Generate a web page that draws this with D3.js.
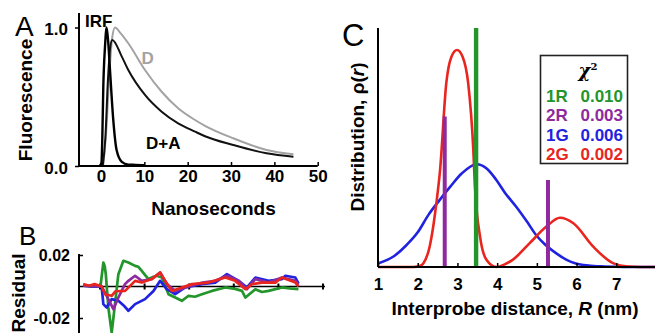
<!DOCTYPE html>
<html>
<head>
<meta charset="utf-8">
<script src="https://cdn.jsdelivr.net/npm/d3@7"></script>
<style>
  html, body { margin: 0; padding: 0; background: #fff; }
  svg { display: block; font-family: "Liberation Sans", Arial, sans-serif; }
</style>
</head>
<body>
<svg id="chart" width="655" height="333"></svg>
<script>
// ---- panel A: fluorescence decays (time in ns, normalised intensity)
const irfTime = [-0.3, 0.1, 0.3, 0.53, 0.92, 1.3, 1.7, 2.08, 2.84, 3.6, 4.8, 6.3, 8, 10];
const irfValue = [0, 0.02, 0.2, 0.57, 0.86, 1.0, 0.88, 0.69, 0.33, 0.115, 0.03, 0.01, 0.008, 0.005];

const donorTime = [0.5, 1.2, 2.0, 2.6, 3.23, 4.5, 6.3, 10.15, 14, 17.8, 21.7, 24, 30.5, 38.2, 44.4];
const donorValue = [0, 0.25, 0.7, 0.93, 1.0, 0.96, 0.886, 0.693, 0.536, 0.417, 0.332, 0.29, 0.2, 0.116, 0.084];

const donorAcceptorTime = [0.4, 1.0, 1.6, 2.1, 2.6, 4.8, 6.3, 10.15, 14, 17.8, 21.7, 24, 30.5, 38.2, 44.4];
const donorAcceptorValue = [0, 0.2, 0.62, 0.85, 0.91, 0.79, 0.693, 0.513, 0.392, 0.308, 0.248, 0.215, 0.152, 0.092, 0.067];

const timeTicks = [0, 10, 20, 30, 40, 50];

// ---- panel B: fit residuals, [ns, residual]
const residual1R = [[-3.75, 0.001], [-1.9, 0], [0.1, 0], [0.75, 0.0152], [1.05, 0.013], [1.3, 0.0078],
  [1.87, -0.0133], [2.62, -0.0292], [3.1, -0.0176], [4.12, 0.0078], [5.24, 0.0163], [6.37, 0.0152],
  [7.87, 0.0131], [8.6, 0.0125], [9.36, 0.0099], [10.86, 0.0047], [12.0, 0.0062], [12.73, 0.0068],
  [13.86, 0.0057], [15.36, -0.0049], [16.85, -0.007], [18.35, -0.0091], [19.85, -0.0059],
  [21.3, -0.0065], [22.85, -0.0049], [25.1, -0.0028], [28.1, -0.0006], [30.3, -0.0015],
  [31.84, -0.0028], [32.6, -0.007], [34.83, -0.0017], [36.3, -0.0035], [37.8, -0.0028],
  [40.8, -0.0006], [42.5, -0.0012], [44.5, -0.0017]];
const residual2R = [[-3.75, 0.0005], [0.37, 0], [1.87, -0.008], [3.0, -0.0144], [4.12, -0.007],
  [5.6, 0.0015], [6.37, 0.0036], [7.87, 0.0068], [9.36, 0.0036], [11.6, 0.0047], [13.48, 0.0089],
  [14.98, 0.0015], [16.85, -0.0028], [19.85, 0], [23, 0.0025], [25.84, 0.0036], [28.46, 0.0068],
  [31.1, 0.0036], [32.96, -0.0017], [34.83, 0.0047], [37.8, 0.0025], [40.8, 0.0057], [43.8, 0.0036],
  [44.5, 0.001]];
const residual1G = [[-3.75, 0.0005], [-1.9, 0], [0.37, 0], [0.75, -0.0112], [1.5, -0.0133],
  [2.62, -0.008], [4.12, -0.0091], [5.3, -0.012], [6.37, -0.0154], [7.87, -0.0112], [10.1, -0.008],
  [12.0, -0.0028], [13.48, 0.0036], [14.98, -0.0017], [16.85, -0.0049], [19.1, -0.0006],
  [22.85, 0.0015], [25.84, 0.0025], [28.46, 0.0078], [31.1, 0.0036], [32.96, -0.0006],
  [34.83, 0.0057], [37.8, 0.0036], [40.8, 0.0047], [41.57, 0.0068], [43.8, 0.0057], [44.5, 0.002]];
const residual2G = [[-3.75, 0.0015], [-2.5, 0.0005], [-1.2, 0.0015], [0.37, 0], [1.12, -0.0049],
  [2.62, -0.0059], [3.5, -0.003], [5.62, -0.0028], [7.87, 0.0036], [9.36, 0.0025], [11.6, 0.0047],
  [13.48, 0.0089], [14.6, 0.0036], [16.1, -0.0028], [18.35, -0.0006], [20.6, 0.0015],
  [24.3, 0.0025], [28.1, 0.0057], [30.3, 0.0036], [32.6, -0.0017], [34.08, 0.0015],
  [36.3, 0.0025], [39.3, 0.0025], [40.8, 0.0057], [43.8, 0.0025], [44.5, 0]];

const residualTicks = [0.02, -0.02];

// ---- panel C: distance distributions (nm, arbitrary units)
const gaussian2Distance = [1.0, 1.9, 2.06, 2.14, 2.3, 2.4, 2.47, 2.56, 2.72, 2.85, 2.99, 3.13, 3.27, 3.4,
  3.44, 3.57, 3.73, 3.98, 4.2, 4.39, 4.82, 5.24, 5.58, 5.92, 6.42, 6.93, 7.3, 7.6, 8.0];
const gaussian2Value = [0, 0, 0.005, 0.015, 0.085, 0.18, 0.267, 0.40, 0.77, 0.88, 0.908, 0.88, 0.77, 0.49,
  0.34, 0.127, 0.03, 0, 0.012, 0.03, 0.1, 0.169, 0.206, 0.183, 0.085, 0.015, 0.002, 0, 0];

const gaussian1Distance = [1.0, 1.4, 1.72, 2.0, 2.27, 2.55, 2.82, 3.1, 3.48, 3.75, 3.98, 4.2, 4.48, 4.75,
  4.98, 5.2, 5.49, 5.75, 5.98, 6.3, 6.7, 7.2, 8.0];
const gaussian1Value = [0.015, 0.045, 0.092, 0.145, 0.218, 0.28, 0.336, 0.39, 0.43, 0.41, 0.364, 0.31,
  0.252, 0.19, 0.134, 0.095, 0.057, 0.03, 0.015, 0.006, 0.002, 0, 0];

const rotamer1Distance = [3.47];
const rotamer1Value = [1.0];
const rotamer2Distance = [2.68, 5.28];
const rotamer2Value = [0.63, 0.364];

const distanceTicks = [1, 2, 3, 4, 5, 6, 7];

const modelNames = ['1R', '2R', '1G', '2G'];
const chiSquared = ['0.010', '0.003', '0.006', '0.002'];
const modelColors = ['#23952b', '#8e2a9e', '#1f23e0', '#e8261f'];

const svg = d3.select('#chart');

function styleAxis(g, size) {
  g.attr('font-family', null).attr('font-size', size).attr('font-weight', 'bold');
  g.selectAll('line').attr('stroke', '#000').attr('stroke-width', 1.5);
  g.select('.domain').remove();
}

// ================= panel A
const xA = d3.scaleLinear().domain([0, 50]).range([101, 317.7]);
const yA = d3.scaleLinear().domain([0, 1]).range([166, 27.5]);

const panelA = svg.append('g').attr('id', 'panelA');

const decayLine = (times) => d3.line()
  .x((d, i) => xA(times[i]))
  .y((d) => yA(d))
  .curve(d3.curveMonotoneX);

panelA.append('path')
  .attr('d', decayLine(donorTime)(donorValue))
  .attr('fill', 'none').attr('stroke', '#a3a3a3').attr('stroke-width', 2);
panelA.append('path')
  .attr('d', decayLine(donorAcceptorTime)(donorAcceptorValue))
  .attr('fill', 'none').attr('stroke', '#111').attr('stroke-width', 2);
panelA.append('path')
  .attr('d', decayLine(irfTime)(irfValue))
  .attr('fill', 'none').attr('stroke', '#000').attr('stroke-width', 2.4);

// axes lines
panelA.append('line')
  .attr('x1', 79).attr('x2', 79).attr('y1', 13).attr('y2', yA(0))
  .attr('stroke', '#000').attr('stroke-width', 2);
panelA.append('line')
  .attr('x1', 79).attr('x2', xA(50)).attr('y1', yA(0)).attr('y2', yA(0))
  .attr('stroke', '#000').attr('stroke-width', 2);

panelA.append('g')
  .attr('transform', `translate(0,${yA(0)})`)
  .call(d3.axisBottom(xA).tickValues(timeTicks).tickSizeInner(-4).tickSizeOuter(0).tickPadding(4)
    .tickFormat(d3.format('d')))
  .call((g) => styleAxis(g, 17));

panelA.append('g')
  .attr('transform', 'translate(79,0)')
  .call(d3.axisLeft(yA).tickValues([0, 1]).tickSizeInner(4).tickSizeOuter(0).tickPadding(7)
    .tickFormat(d3.format('.1f')))
  .call((g) => styleAxis(g, 17))
  .call((g) => g.selectAll('text').attr('dy', '0.42em'));

panelA.append('text')
  .attr('x', 15).attr('y', 36).attr('font-size', 28).text('A');
panelA.append('text')
  .attr('transform', 'translate(32,100) rotate(-90)')
  .attr('text-anchor', 'middle').attr('font-size', 19).attr('font-weight', 'bold')
  .text('Fluorescence');
panelA.append('text')
  .attr('x', 213.5).attr('y', 215).attr('text-anchor', 'middle')
  .attr('font-size', 19).attr('font-weight', 'bold').text('Nanoseconds');

panelA.append('text')
  .attr('x', 85).attr('y', 27).attr('font-size', 17).attr('font-weight', 'bold').text('IRF');
panelA.append('text')
  .attr('x', 141.5).attr('y', 64).attr('font-size', 17).attr('font-weight', 'bold')
  .attr('fill', '#a3a3a3').text('D');
panelA.append('text')
  .attr('x', 146).attr('y', 149).attr('font-size', 17).attr('font-weight', 'bold').text('D+A');

// ================= panel B
const xB = d3.scaleLinear().domain([0, 50]).range([100, 323]);
const yB = d3.scaleLinear().domain([-0.02, 0.02]).range([318, 255]);

const panelB = svg.append('g').attr('id', 'panelB');

panelB.append('line')
  .attr('x1', 79).attr('x2', 79).attr('y1', 254).attr('y2', 333)
  .attr('stroke', '#000').attr('stroke-width', 2);
panelB.append('g')
  .attr('transform', 'translate(79,0)')
  .call(d3.axisLeft(yB).tickValues(residualTicks).tickSizeInner(-4).tickSizeOuter(0).tickPadding(9)
    .tickFormat((d) => d.toFixed(2)))
  .call((g) => styleAxis(g, 16));

panelB.append('line')
  .attr('x1', 79).attr('x2', xB(50) + 2).attr('y1', yB(0)).attr('y2', yB(0))
  .attr('stroke', '#000').attr('stroke-width', 1.5);
panelB.append('g')
  .selectAll('line')
  .data(timeTicks)
  .join('line')
  .attr('x1', (d) => xB(d)).attr('x2', (d) => xB(d))
  .attr('y1', yB(0) - 3).attr('y2', yB(0) + 3)
  .attr('stroke', '#000').attr('stroke-width', 2);

const residualLine = d3.line()
  .x((d) => xB(d[0]))
  .y((d) => yB(d[1]));

const residualSeries = [residual1R, residual1G, residual2R, residual2G];
const residualColors = [modelColors[0], modelColors[2], modelColors[1], modelColors[3]];

panelB.append('g')
  .selectAll('path')
  .data(residualSeries)
  .join('path')
  .attr('d', residualLine)
  .attr('fill', 'none')
  .attr('stroke', (d, i) => residualColors[i])
  .attr('stroke-width', 2.7)
  .attr('stroke-linejoin', 'round');

panelB.append('text')
  .attr('x', 19).attr('y', 245).attr('font-size', 26).text('B');
panelB.append('text')
  .attr('transform', 'translate(25,293) rotate(-90)')
  .attr('text-anchor', 'middle').attr('font-size', 19).attr('font-weight', 'bold')
  .text('Residual');

// ================= panel C
const xC = d3.scaleLinear().domain([1, 8]).range([378, 656]);
const yC = d3.scaleLinear().domain([0, 1]).range([267, 28]);

const panelC = svg.append('g').attr('id', 'panelC');

const distLine = (distances) => d3.line()
  .x((d, i) => xC(distances[i]))
  .y((d) => yC(d))
  .curve(d3.curveMonotoneX);

panelC.append('path')
  .attr('d', distLine(gaussian1Distance)(gaussian1Value))
  .attr('fill', 'none').attr('stroke', modelColors[2]).attr('stroke-width', 2.6);
panelC.append('path')
  .attr('d', distLine(gaussian2Distance)(gaussian2Value))
  .attr('fill', 'none').attr('stroke', modelColors[3]).attr('stroke-width', 2.6);

panelC.append('g')
  .selectAll('rect')
  .data(rotamer2Distance)
  .join('rect')
  .attr('x', (d) => xC(d) - 2)
  .attr('y', (d, i) => yC(rotamer2Value[i]))
  .attr('width', 4)
  .attr('height', (d, i) => yC(0) - yC(rotamer2Value[i]))
  .attr('fill', modelColors[1]);
panelC.append('g')
  .selectAll('rect')
  .data(rotamer1Distance)
  .join('rect')
  .attr('x', (d) => xC(d) - 2.2)
  .attr('y', (d, i) => yC(rotamer1Value[i]))
  .attr('width', 4.4)
  .attr('height', (d, i) => yC(0) - yC(rotamer1Value[i]))
  .attr('fill', modelColors[0]);

panelC.append('line')
  .attr('x1', xC(1)).attr('x2', xC(1)).attr('y1', yC(1)).attr('y2', yC(0))
  .attr('stroke', '#000').attr('stroke-width', 2);
panelC.append('line')
  .attr('x1', xC(1)).attr('x2', 655).attr('y1', yC(0)).attr('y2', yC(0))
  .attr('stroke', '#000').attr('stroke-width', 2);
panelC.append('g')
  .attr('transform', `translate(0,${yC(0)})`)
  .call(d3.axisBottom(xC).tickValues(distanceTicks).tickSizeInner(-4).tickSizeOuter(0).tickPadding(11)
    .tickFormat(d3.format('d')))
  .call((g) => styleAxis(g, 17));

panelC.append('text')
  .attr('x', 342).attr('y', 46).attr('font-size', 31).text('C');

const yTitleC = panelC.append('text')
  .attr('transform', 'translate(364,137) rotate(-90)')
  .attr('text-anchor', 'middle').attr('font-size', 19).attr('font-weight', 'bold');
yTitleC.append('tspan').text('Distribution, ρ(');
yTitleC.append('tspan').attr('font-style', 'italic').text('r');
yTitleC.append('tspan').text(')');

const xTitleC = panelC.append('text')
  .attr('x', 515).attr('y', 315).attr('text-anchor', 'middle')
  .attr('font-size', 19).attr('font-weight', 'bold');
xTitleC.append('tspan').text('Interprobe distance, ');
xTitleC.append('tspan').attr('font-style', 'italic').text('R');
xTitleC.append('tspan').text(' (nm)');

// legend with chi-squared values
const legend = panelC.append('g').attr('id', 'legend');
legend.append('rect')
  .attr('x', 540.5).attr('y', 55.5).attr('width', 87).attr('height', 108)
  .attr('fill', '#fff').attr('stroke', '#222').attr('stroke-width', 1.6);
const chiLabel = legend.append('text')
  .attr('x', 588).attr('y', 77).attr('text-anchor', 'middle')
  .attr('font-size', 18).attr('font-weight', 'bold')
  .attr('font-family', '"DejaVu Serif", serif');
chiLabel.append('tspan').attr('font-style', 'italic').text('χ');
chiLabel.append('tspan').attr('font-size', 10).attr('dy', -7).text('2');

const rows = legend.selectAll('g.row')
  .data(modelNames)
  .join('g')
  .attr('class', 'row')
  .attr('transform', (d, i) => `translate(0,${102 + i * 19.4})`)
  .attr('font-size', 17).attr('font-weight', 'bold')
  .attr('fill', (d, i) => modelColors[i]);
rows.append('text').attr('x', 546).text((d) => d);
rows.append('text').attr('x', 623).attr('text-anchor', 'end').text((d, i) => chiSquared[i]);
</script>
</body>
</html>
